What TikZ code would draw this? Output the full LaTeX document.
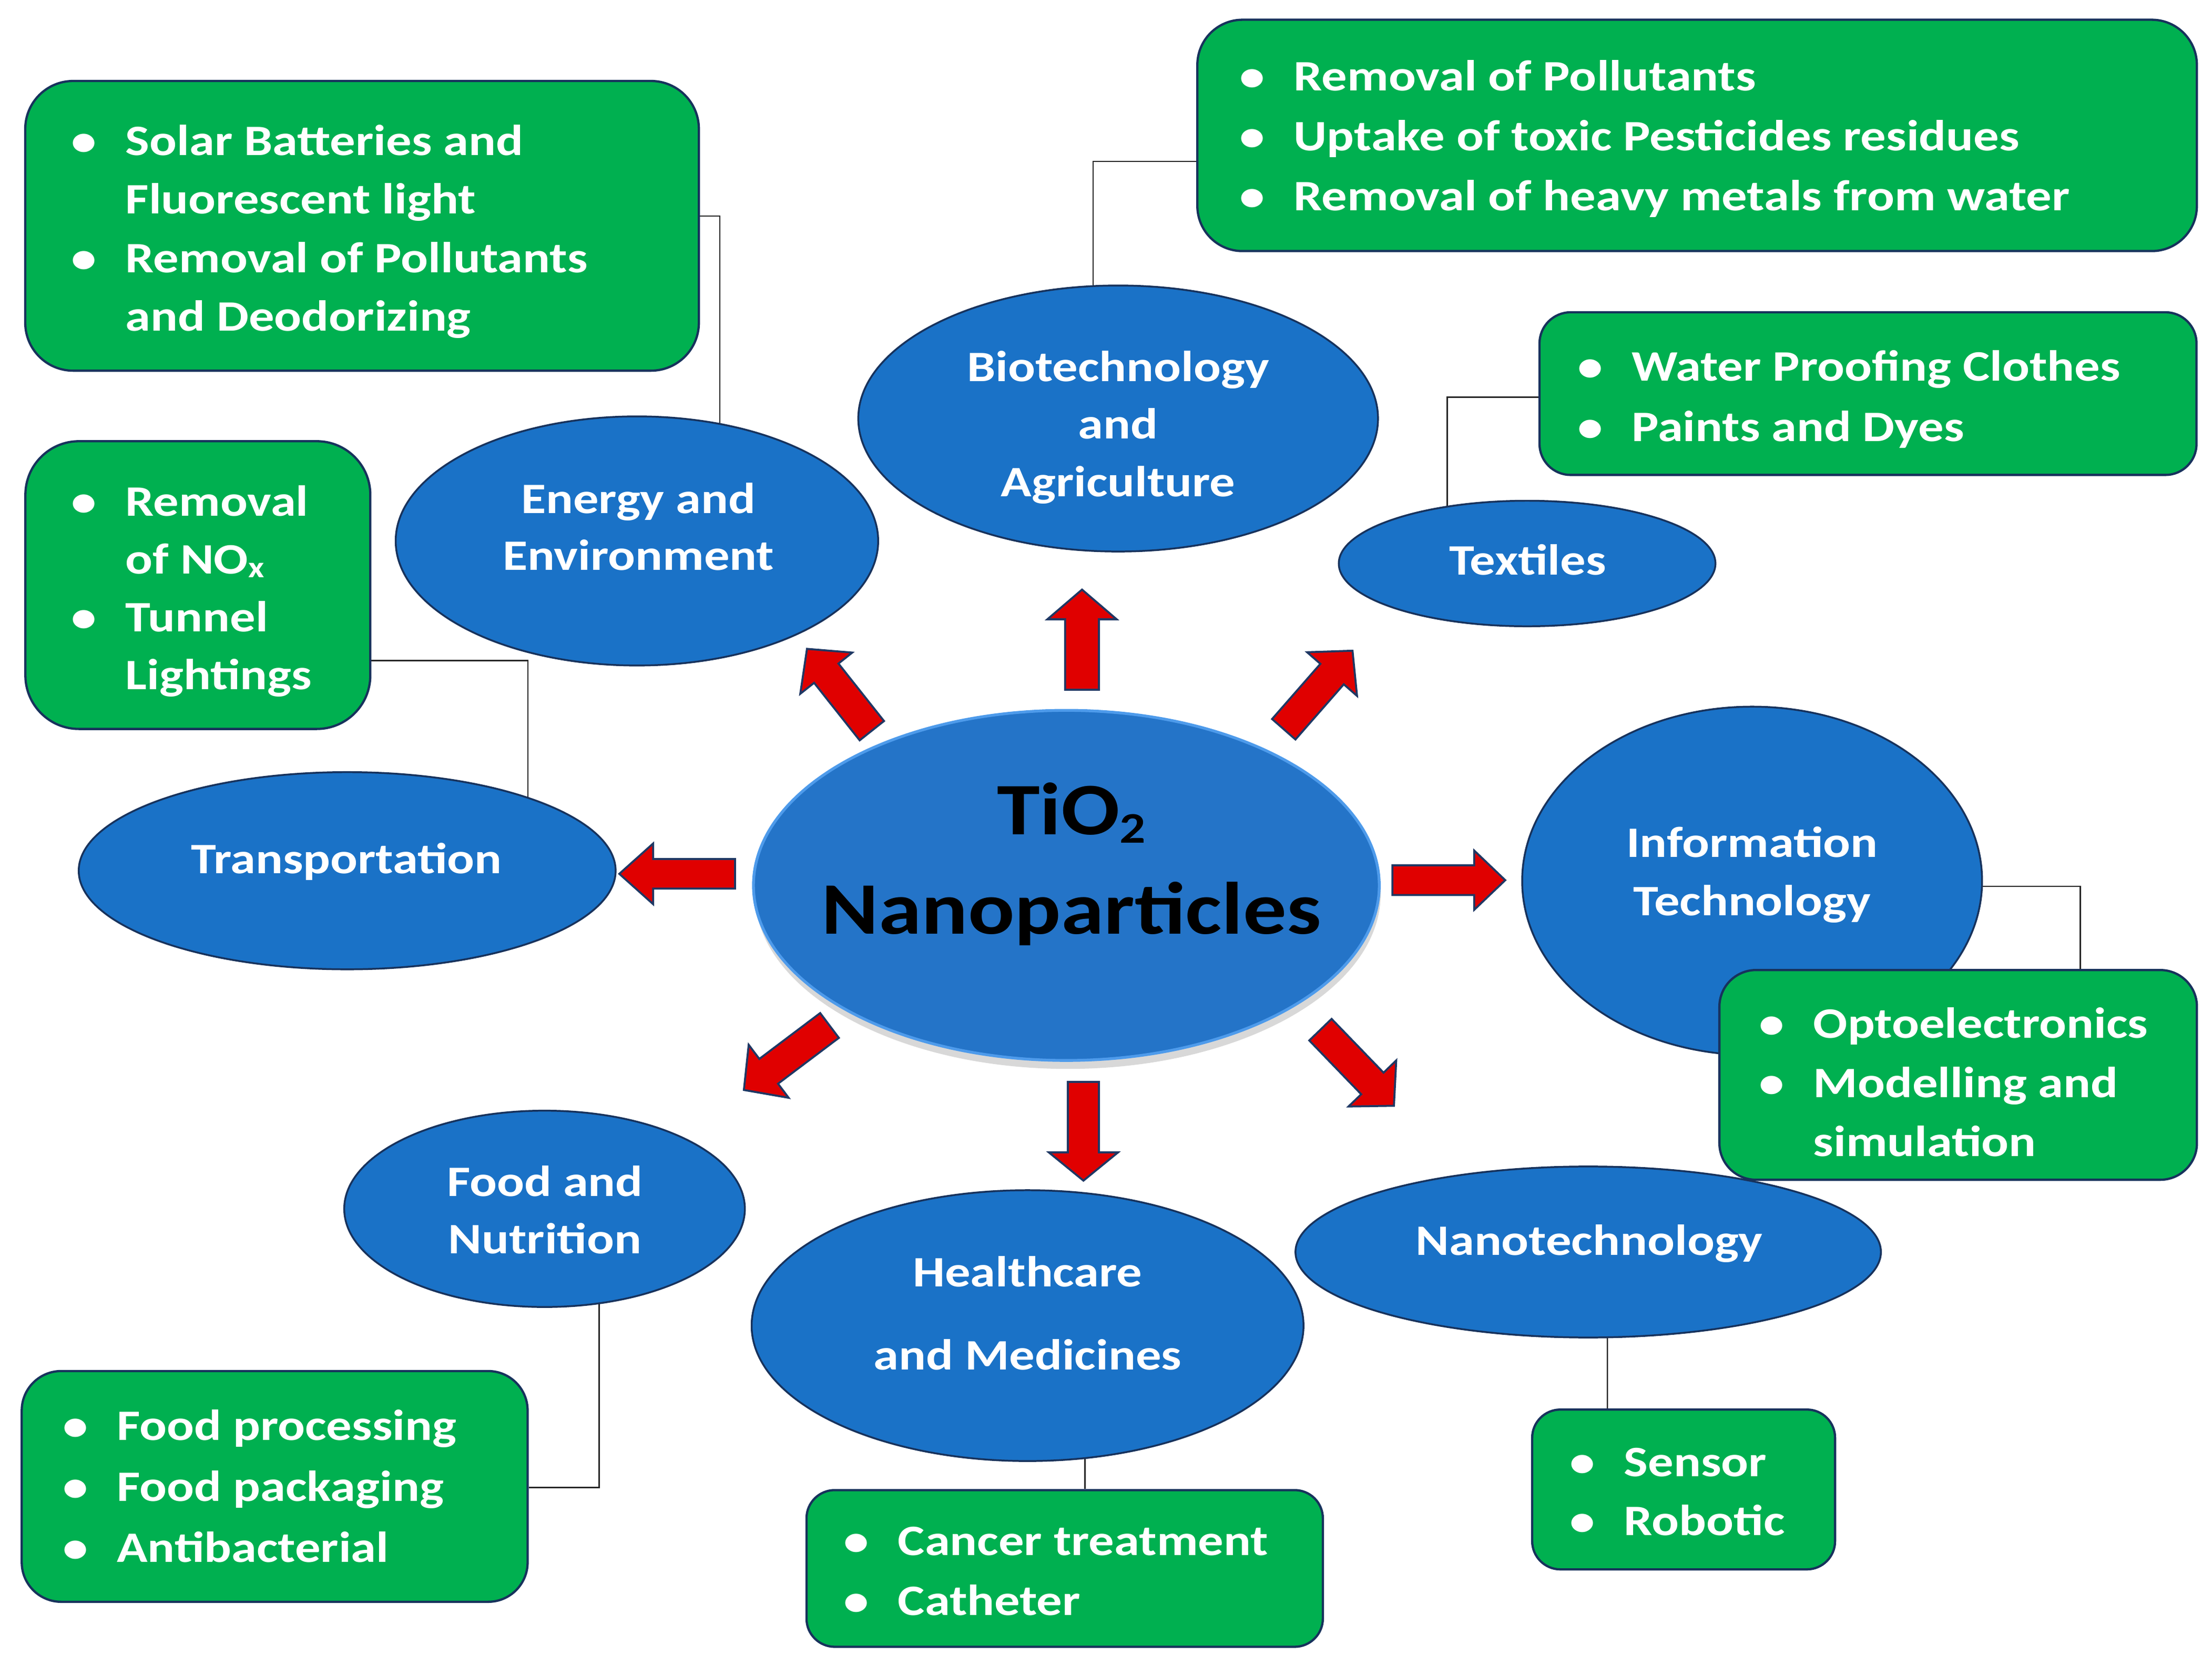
\documentclass[tikz,border=0pt]{standalone}
\usepackage{fontspec}
\setmainfont{Carlito}[FakeStretch=1.17]
\usetikzlibrary{shapes.geometric,shadows,calc}
\pgfdeclarelayer{paper}
\pgfdeclarelayer{bg}
\pgfsetlayers{paper,bg,main}
\definecolor{ellblue}{HTML}{1A72C7}
\definecolor{navy}{HTML}{17325C}
\definecolor{boxgreen}{HTML}{00B050}
\definecolor{arrred}{HTML}{E00000}
\definecolor{arrline}{HTML}{1F3864}
\definecolor{cblue}{HTML}{2474C8}
\definecolor{crim}{HTML}{4E9BEB}
\newcommand\bul{\makebox[0pt]{\textbullet}\hspace*{29.5pt}}
\newcommand\cont{\hspace*{29.5pt}}
\newcommand\blockarr[6]{%
  \begin{scope}[shift={#1},rotate=#2]
    \draw[blockarrow] (0,-#4) -- ({#3-#6},-#4) -- ({#3-#6},-#5) -- (#3,0)
      -- ({#3-#6},#5) -- ({#3-#6},#4) -- (0,#4) -- cycle;
  \end{scope}}
\tikzset{
  topic/.style={ellipse, draw=navy, line width=1.3pt, fill=ellblue, inner sep=0pt},
  topictext/.style={text=white, font=\fontsize{30.8}{40.5}\selectfont\bfseries, align=center, inner sep=0pt},
  infobox/.style={rectangle, draw=navy, line width=1.6pt, fill=boxgreen, inner sep=0pt, rounded corners=#1},
  infobox/.default=30pt,
  infotext/.style={text=white, font=\fontsize{30.8}{42}\selectfont\bfseries, align=left, inner sep=0pt, anchor=west},
  link/.style={draw=black!85, line width=1pt},
  blockarrow/.style={fill=arrred, draw=arrline, line width=1.4pt, line join=miter},
}
\begin{document}
\begin{tikzpicture}[x=1pt,y=-1pt]
\begin{pgfonlayer}{paper}
\fill[white] (0,0) rectangle (1568,1181);
\end{pgfonlayer}
\useasboundingbox (0,0) rectangle (1568,1181);

% ---------- topic ellipses ----------
\node[topic, minimum width=342pt, minimum height=176.6pt] (energy) at (451.5,383.5) {};
\node[topic, minimum width=368.4pt, minimum height=188.6pt] (biotech) at (792.6,296.7) {};
\node[topic, minimum width=267pt, minimum height=89pt] (textiles) at (1082.5,399.5) {};
\node[topic, minimum width=380.6pt, minimum height=139.8pt] (transport) at (246.1,617.3) {};
\node[topic, minimum width=326pt, minimum height=247pt] (it) at (1242,624.5) {};
\node[topic, minimum width=284pt, minimum height=139.2pt] (food) at (386,857) {};
\node[topic, minimum width=391.2pt, minimum height=192pt] (health) at (728.4,939.8) {};
\node[topic, minimum width=415pt, minimum height=121.2pt] (nano) at (1125.8,887.6) {};

% ---------- centre ----------
\node[ellipse, inner sep=0pt, minimum width=443.6pt, minimum height=248.2pt,
      fill=cblue, draw=crim, line width=2pt,
      drop shadow={shadow xshift=1pt, shadow yshift=-6pt, opacity=0.3}] (cn) at (755.9,627.7) {};

% ---------- info boxes ----------
\node[infobox=34pt, minimum width=477.5pt, minimum height=205.4pt] (tl) at (256.65,160.1) {};
\node[infobox=32pt, minimum width=708.5pt, minimum height=164pt] (topbox) at (1203,96) {};
\node[infobox=38pt, minimum width=244.5pt, minimum height=204pt] (leftbox) at (140.25,414.8) {};
\node[infobox=22pt, minimum width=465.7pt, minimum height=115.3pt] (water) at (1324.15,279.05) {};
\node[infobox=26pt, minimum width=338.5pt, minimum height=148.7pt] (opto) at (1388.05,762.05) {};
\node[infobox=28pt, minimum width=358.6pt, minimum height=163.6pt] (foodbox) at (194.7,1053.8) {};
\node[infobox=20pt, minimum width=366pt, minimum height=111.1pt] (cancer) at (754.7,1111.95) {};
\node[infobox=20pt, minimum width=214.7pt, minimum height=113.3pt] (sensor) at (1193.45,1055.95) {};

% ---------- connectors ----------
\begin{pgfonlayer}{bg}
\draw[link] ($(tl.east)+(0,-6.9)$) -| ($(energy.center)+(58.7,0)$);
\draw[link] ($(topbox.west)+(0,18.4)$) -| ($(biotech.center)+(-17.8,0)$);
\draw[link] ($(water.west)+(0,2.6)$) -| ($(textiles.center)+(-56.5,0)$);
\draw[link] ($(leftbox.east)+(0,53.5)$) -| ($(transport.center)+(128.1,0)$);
\draw[link] ($(it.center)+(0,3.9)$) -| ($(opto.north)+(86.5,0)$);
\draw[link] ($(foodbox.east)+(0,0.7)$) -| ($(food.center)+(38.6,0)$);
\draw[link] ($(health.center)+(40.6,0)$) -- ($(cancer.north)+(14.3,0)$);
\draw[link] ($(nano.center)+(13.6,0)$) -- ($(sensor.north)+(-54.05,0)$);
\end{pgfonlayer}

% ---------- block arrows ----------
\blockarr{($(cn.center)+(11.1,-138.7)$)}{90}{71}{12}{24.5}{21}
\blockarr{($(cn.center)+(12.1,139.3)$)}{-90}{70}{11}{24.5}{20}
\blockarr{($(cn.center)+(-234.9,-8.2)$)}{180}{82}{10.5}{21.5}{24}
\blockarr{($(cn.center)+(231.1,-3.7)$)}{0}{80}{10.5}{21}{22}
\blockarr{($(cn.center)+(-137.9,-109.7)$)}{128.4}{74}{11}{23.5}{22}
\blockarr{($(cn.center)+(154.1,-110.7)$)}{48.8}{74}{11}{23.5}{22}
\blockarr{($(cn.center)+(-167.9,99.3)$)}{217}{76}{11}{23.5}{22}
\blockarr{($(cn.center)+(180.1,102.3)$)}{-46}{75}{11}{23.5}{22}

% ---------- ellipse texts ----------
\node[topictext] (energy-t) at (452.5,373.4) {Energy and\\Environment};
\node[topictext, font=\fontsize{30.8}{40.8}\selectfont\bfseries] (biotech-t) at (792.6,303) {Biotechnology\\and\\Agriculture};
\node[topictext] (textiles-t) at (1083,397) {Textiles};
\node[topictext] (transport-t) at (245.6,611) {Transportation};
\node[topictext, font=\fontsize{30.8}{41.4}\selectfont\bfseries] (it-t) at (1242,620) {Information\\Technology};
\node[topictext, font=\fontsize{30.8}{40.3}\selectfont\bfseries] (food-t) at (386.3,857.7) {Food and\\Nutrition};
\node[topictext, font=\fontsize{30.8}{58.9}\selectfont\bfseries] (health-t) at (728.4,930.8) {Healthcare\\and Medicines};
\node[topictext] (nano-t) at (1126.5,881.7) {Nanotechnology};
\node[align=center, inner sep=0pt, text=black, font=\fontsize{52.5}{70.3}\selectfont\bfseries] (cn-t) at (759.5,612.6)
  {TiO\raisebox{-5.8pt}{\fontsize{31}{31}\selectfont 2}\\Nanoparticles};

% ---------- box texts ----------
\node[infotext, font=\fontsize{30.8}{41.5}\selectfont\bfseries] (tl-t) at (59.3,164.2)
  {\bul Solar Batteries and\\\cont Fluorescent light\\\bul Removal of Pollutants\\\cont and Deodorizing};
\node[infotext, font=\fontsize{30.8}{42.6}\selectfont\bfseries] (topbox-t) at (887.5,98.4)
  {\bul Removal of Pollutants\\\bul Uptake of toxic Pesticides residues\\\bul Removal of heavy metals from water};
\node[infotext, font=\fontsize{30.8}{41}\selectfont\bfseries] (leftbox-t) at (59.3,419.2)
  {\bul Removal\\\cont of NO\raisebox{-2.6pt}{\fontsize{21}{21}\selectfont x}\\\bul Tunnel\\\cont Lightings};
\node[infotext, font=\fontsize{30.8}{43}\selectfont\bfseries] (water-t) at (1127,283)
  {\bul Water Proofing Clothes\\\bul Paints and Dyes};
\node[infotext] (opto-t) at (1255.7,767.2)
  {\bul Optoelectronics\\\bul Modelling and\\\cont simulation};
\node[infotext, font=\fontsize{30.8}{43.2}\selectfont\bfseries] (foodbox-t) at (53.2,1053.5)
  {\bul Food processing\\\bul Food packaging\\\bul Antibacterial};
\node[infotext, font=\fontsize{30.8}{42.5}\selectfont\bfseries] (cancer-t) at (606.9,1114)
  {\bul Cancer treatment\\\bul Catheter};
\node[infotext, font=\fontsize{30.8}{41.7}\selectfont\bfseries] (sensor-t) at (1121.6,1057.6)
  {\bul Sensor\\\bul Robotic};
\end{tikzpicture}
\end{document}
